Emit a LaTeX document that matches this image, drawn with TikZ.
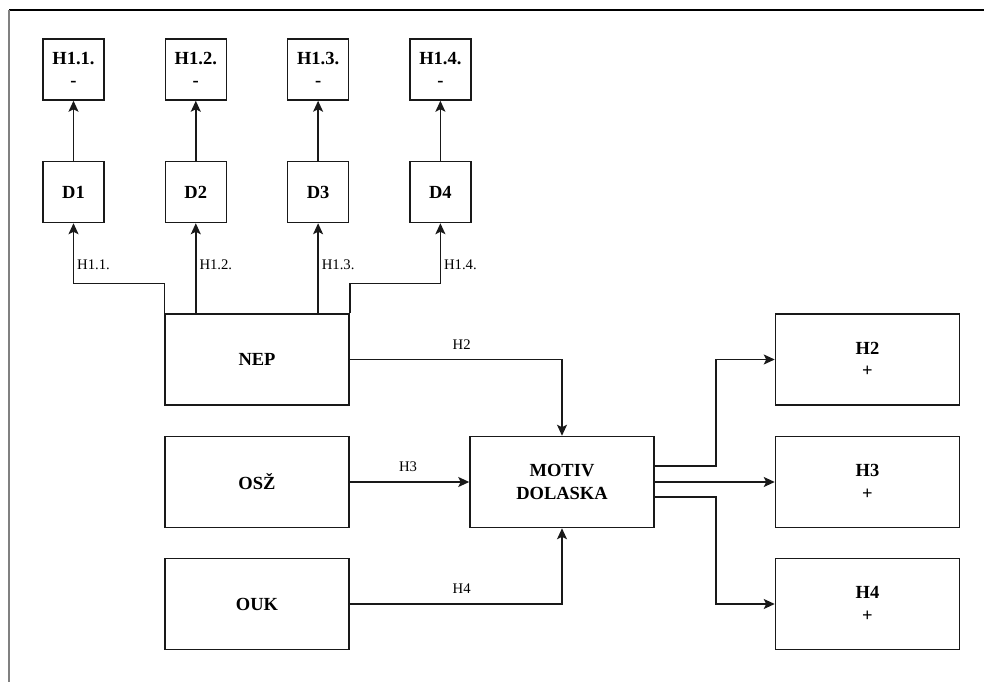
\documentclass[tikz,border=0pt]{standalone}
\usepackage{fontspec}
\setmainfont{Liberation Serif}
\usetikzlibrary{arrows.meta,positioning}

\begin{document}
\begin{tikzpicture}[x=1bp,y=-1bp]
                \tikzstyle{smallbox} = [shape=rectangle, draw=black!90, line width=1.5bp, minimum width=61bp, minimum height=61bp, inner sep=0pt, align=center, font=\fontsize{18.5bp}{22.5bp}\selectfont\bfseries];
                \tikzstyle{bigbox} = [smallbox, minimum width=184bp, minimum height=91bp];
                \tikzstyle{hyp} = [font=\fontsize{14.7bp}{17bp}\selectfont, inner sep=0pt];
                \tikzstyle{arr} = [-{Stealth[length=11bp,width=10bp,inset=2.5bp]}, line width=1.5bp, draw=black!90];

                \useasboundingbox (0,0) rectangle (984,682);
                \draw[black, line width=1.3bp] (9,10) -- (984,10);
                \draw[black!50, line width=2bp] (9,10) -- (9,682);

                \foreach \i/\x in {1/73.5,2/195.8,3/318.1,4/440.4}{
                    \node[smallbox](H1\i) at (\x,69.5) {H1.\i.\\-};
                    \node[smallbox](D\i) at (\x,192) {D\i};
                    \node[hyp, anchor=west](L1\i) at (\x+3.5,265) {H1.\i.};
                    \draw[arr] (D\i) -- (H1\i);
                }

                \node[bigbox](NEP) at (257,359.5) {NEP};
                \node[bigbox](OSZ) at (257,482) {OSŽ};
                \node[bigbox](OUK) at (257,604) {OUK};
                \node[bigbox](MOTIV) at (562,482) {MOTIV\\DOLASKA};
                \node[bigbox](R2) at (867.5,359.5) {H2\\+};
                \node[bigbox](R3) at (867.5,482) {H3\\+};
                \node[bigbox](R4) at (867.5,604) {H4\\+};

                \node[hyp](L2) at (461.7,345) {H2};
                \node[hyp](L3) at (408,467) {H3};
                \node[hyp](L4) at (461.7,589) {H4};

                \draw[arr] (NEP.north west) -- ++(0,-30) -| (D1.south);
                \draw[arr] (NEP.north -| D2) -- (D2.south);
                \draw[arr] (NEP.north -| D3) -- (D3.south);
                \draw[arr] (NEP.north east) -- ++(0,-30) -| (D4.south);

                \draw[arr] (NEP.east) -| (MOTIV.north);
                \draw[arr] (OSZ) -- (MOTIV);
                \draw[arr] (OUK.east) -| (MOTIV.south);

                \draw[arr] ([yshift=16bp]MOTIV.east) -- ++(61,0) |- (R2.west);
                \draw[arr] (MOTIV) -- (R3);
                \draw[arr] ([yshift=-15bp]MOTIV.east) -- ++(61,0) |- (R4.west);
            \end{tikzpicture}
\end{document}
